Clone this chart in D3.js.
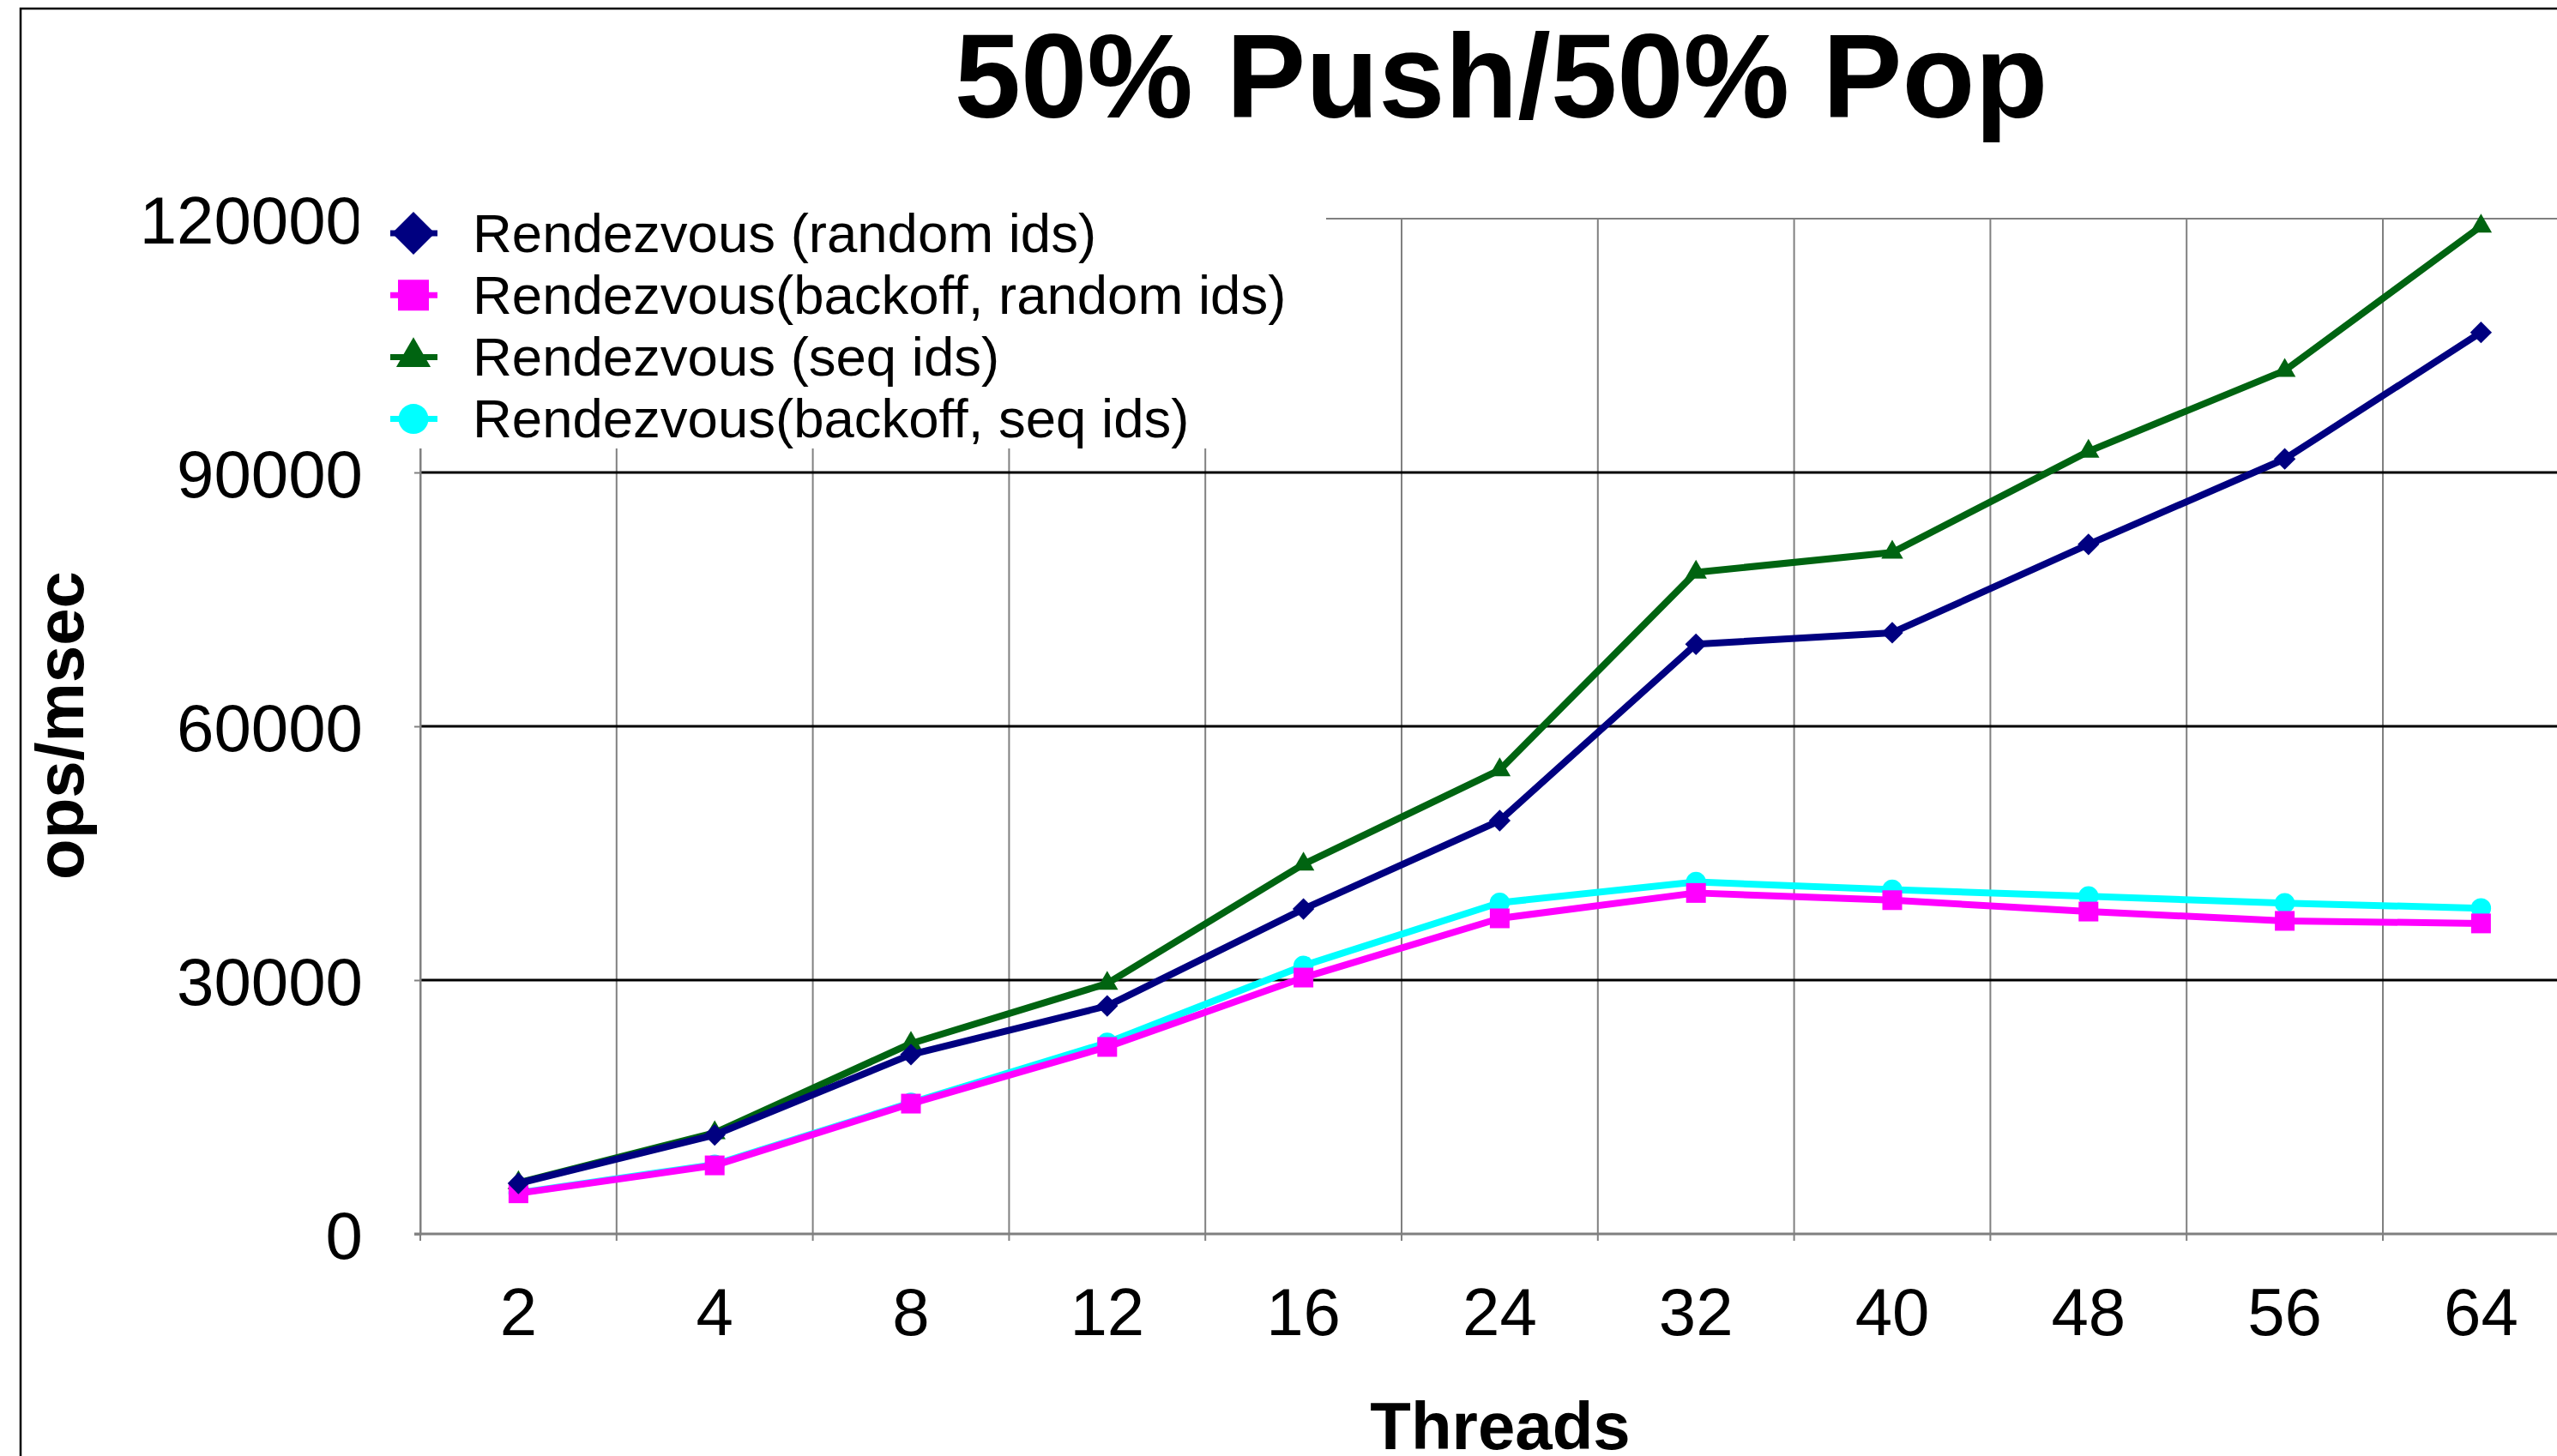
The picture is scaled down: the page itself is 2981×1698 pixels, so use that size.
<!DOCTYPE html>
<html>
<meta charset="utf-8">
<style>

    body {
        margin: 0;
        background: #fff;
    }

    svg text {
        font-family: "Liberation Sans", Arial, sans-serif;
        fill: #000;
    }

</style>
<body>
<script src="https://d3js.org/d3.v7.min.js"></script>
<script>

    // threads on the x axis
    var threads = ["2", "4", "8", "12", "16", "24", "32", "40", "48", "56", "64"];

    // ops/msec per series
    var randomIds        = [5980, 11700, 21200, 26950, 38400, 48850, 69700, 71050, 81500, 91600, 106550];
    var backoffRandomIds = [4800, 8100, 15400, 22100, 30300, 37300, 40300, 39450, 38100, 37000, 36700];
    var seqIds           = [6050, 11950, 22500, 29600, 43700, 54850, 78200, 80550, 92500, 102050, 119100];
    var backoffSeqIds    = [4850, 8200, 15500, 22600, 31700, 39150, 41600, 40700, 39900, 39100, 38500];

    var seriesNames = ["Rendezvous (random ids)", "Rendezvous(backoff, random ids)",
                       "Rendezvous (seq ids)", "Rendezvous(backoff, seq ids)"];
    var seriesColors = ["#000080", "#ff00ff", "#006411", "#00ffff"];
    var yTicks = [0, 30000, 60000, 90000, 120000];

    var W = 2981, H = 1698;
    var plotLeft = 490, plotTop = 255, plotBottom = 1439;
    var band = 228.8;

    var series = [randomIds, backoffRandomIds, seqIds, backoffSeqIds].map(function(v, i) {
        return {name: seriesNames[i], color: seriesColors[i], values: v, shape: i};
    });

    var x = d3.scaleBand()
        .domain(threads)
        .range([plotLeft, plotLeft + band * threads.length]);

    var y = d3.scaleLinear()
        .domain([0, 120000])
        .range([plotBottom, plotTop]);

    var svg = d3.select("body")
        .append("svg")
        .attr("width", W)
        .attr("height", H);

    // outer chart border (right/bottom sides fall outside the picture)
    svg.append("rect")
        .attr("x", 24).attr("y", 10)
        .attr("width", W + 100).attr("height", H + 100)
        .attr("fill", "none")
        .attr("stroke", "#000")
        .attr("stroke-width", 2.5);

    var xRight = x.range()[1];

    // vertical gridlines at category boundaries, with small ticks below the axis
    var bounds = threads.map(function(t) { return x(t); }).concat([xRight]);
    svg.selectAll(".vgrid")
        .data(bounds)
        .enter().append("line")
        .attr("class", "vgrid")
        .attr("x1", function(d) { return d; })
        .attr("x2", function(d) { return d; })
        .attr("y1", plotTop)
        .attr("y2", plotBottom + 8)
        .attr("stroke", "#808080")
        .attr("stroke-width", 2);

    // horizontal gridlines
    svg.selectAll(".hgrid")
        .data(yTicks.slice(1, -1))
        .enter().append("line")
        .attr("class", "hgrid")
        .attr("x1", plotLeft)
        .attr("x2", xRight)
        .attr("y1", function(d) { return y(d); })
        .attr("y2", function(d) { return y(d); })
        .attr("stroke", "#000")
        .attr("stroke-width", 3);

    // plot area top edge
    svg.append("line")
        .attr("x1", plotLeft).attr("x2", xRight)
        .attr("y1", y(120000)).attr("y2", y(120000))
        .attr("stroke", "#808080").attr("stroke-width", 2);

    // y axis
    var yAxis = svg.append("g")
        .attr("transform", "translate(" + plotLeft + ",0)")
        .call(d3.axisLeft(y).tickValues(yTicks).tickSize(7).tickPadding(60).tickFormat(d3.format("d")));
    yAxis.select(".domain").attr("stroke", "#808080").attr("stroke-width", 2);
    yAxis.selectAll(".tick line").attr("stroke", "#808080").attr("stroke-width", 2);
    yAxis.selectAll("text")
        .attr("font-family", "Liberation Sans, Arial, sans-serif")
        .attr("font-size", 78)
        .attr("dy", "0.36em");

    // x axis line
    svg.append("line")
        .attr("x1", plotLeft - 7).attr("x2", xRight)
        .attr("y1", plotBottom).attr("y2", plotBottom)
        .attr("stroke", "#808080").attr("stroke-width", 3);

    // x axis labels
    var xAxis = svg.append("g")
        .attr("transform", "translate(0," + plotBottom + ")")
        .call(d3.axisBottom(x).tickSize(0).tickPadding(63));
    xAxis.select(".domain").remove();
    xAxis.selectAll("text")
        .attr("font-family", "Liberation Sans, Arial, sans-serif")
        .attr("font-size", 78);

    // markers
    function marker(shape, big) {
        var sizes = big ? [1250, 1296, 700, 962] : [320, 529, 280, 430];
        var types = [d3.symbolSquare, d3.symbolSquare, d3.symbolTriangle, d3.symbolCircle];
        return d3.symbol().type(types[shape]).size(sizes[shape])();
    }
    function markerTransform(shape, cx, cy) {
        return "translate(" + cx + "," + cy + ")" + (shape === 0 ? " rotate(45)" : "");
    }

    var line = d3.line()
        .x(function(d, i) { return x(threads[i]) + x.bandwidth() / 2; })
        .y(function(d) { return y(d); });

    // drawn back to front: cyan, green, magenta, navy
    var order = [3, 2, 1, 0];
    order.forEach(function(k) {
        var s = series[k];
        svg.append("path")
            .attr("d", line(s.values))
            .attr("fill", "none")
            .attr("stroke", s.color)
            .attr("stroke-width", 8)
            .attr("stroke-linejoin", "round");

        svg.selectAll(".m" + k)
            .data(s.values)
            .enter().append("path")
            .attr("class", "m" + k)
            .attr("d", marker(s.shape, false))
            .attr("transform", function(d, i) {
                return markerTransform(s.shape, x(threads[i]) + x.bandwidth() / 2, y(d));
            })
            .attr("fill", s.color);
    });

    // legend
    svg.append("rect")
        .attr("x", 418).attr("y", 225)
        .attr("width", 1128).attr("height", 298)
        .attr("fill", "#fff");

    var legend = svg.selectAll(".legend")
        .data(series)
        .enter().append("g")
        .attr("class", "legend")
        .attr("transform", function(d, i) { return "translate(0," + (272 + i * 72.2) + ")"; });

    legend.append("line")
        .attr("x1", 455).attr("x2", 510)
        .attr("y1", 0).attr("y2", 0)
        .attr("stroke", function(d) { return d.color; })
        .attr("stroke-width", 7);

    legend.append("path")
        .attr("d", function(d) { return marker(d.shape, true); })
        .attr("transform", function(d) { return markerTransform(d.shape, 482, 0); })
        .attr("fill", function(d) { return d.color; });

    legend.append("text")
        .attr("x", 551)
        .attr("dy", "0.34em")
        .attr("font-size", 63.5)
        .text(function(d) { return d.name; });

    // titles
    svg.append("text")
        .attr("x", 1750).attr("y", 137)
        .attr("text-anchor", "middle")
        .attr("font-size", 139)
        .attr("font-weight", "bold")
        .text("50% Push/50% Pop");

    svg.append("text")
        .attr("x", 1749).attr("y", 1690)
        .attr("text-anchor", "middle")
        .attr("font-size", 78)
        .attr("font-weight", "bold")
        .text("Threads");

    svg.append("text")
        .attr("transform", "translate(97,846) rotate(-90)")
        .attr("text-anchor", "middle")
        .attr("font-size", 78)
        .attr("font-weight", "bold")
        .text("ops/msec");

</script>
</html>
